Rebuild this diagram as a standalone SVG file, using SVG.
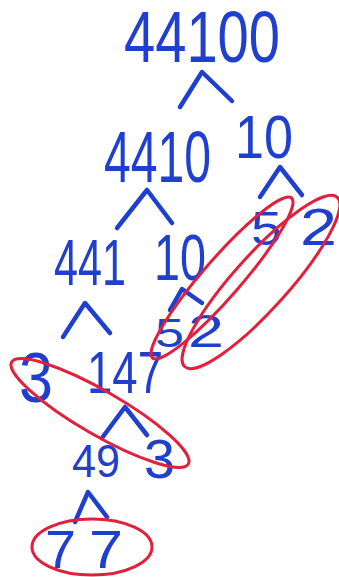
<svg xmlns="http://www.w3.org/2000/svg" width="339" height="577" viewBox="0 0 339 577">
<style>
.n{font-family:"Liberation Sans",Arial,sans-serif;fill:#1f3fcf;}
.c{fill:none;stroke:#1f3fcf;stroke-width:4.5;stroke-linecap:round;stroke-linejoin:round;}
.r{fill:none;stroke:#e3203c;stroke-width:3;}
</style>
<rect width="339" height="577" fill="#ffffff"/>
<g id="connectors">
<path class="c" d="M180,107 L202,72 L232,101"/>
<path class="c" d="M117,228 L147,190 L172,223"/>
<path class="c" d="M260,197 L280,167 L302,195"/>
<path class="c" d="M63,337 L85,303 L110,333"/>
<path class="c" d="M170,310 L182,289 L202,303"/>
<path class="c" d="M102,438 L125,407 L147,435"/>
<path class="c" d="M75,522 L88,492 L107,517"/>
</g>
<g id="n44100"><text class="n" x="124" y="62" font-size="72" textLength="156" lengthAdjust="spacingAndGlyphs">44100</text></g>
<g id="n4410"><text class="n" x="104" y="182" font-size="72" textLength="107" lengthAdjust="spacingAndGlyphs">4410</text></g>
<g id="n10a"><text class="n" x="235" y="158" font-size="62" textLength="58" lengthAdjust="spacingAndGlyphs">10</text></g>
<g id="n441"><text class="n" x="54" y="285" font-size="65" textLength="72" lengthAdjust="spacingAndGlyphs">441</text></g>
<g id="n10b"><text class="n" x="154" y="280" font-size="65" textLength="52" lengthAdjust="spacingAndGlyphs">10</text></g>
<g id="n5a"><text class="n" x="251" y="245" font-size="49" textLength="31" lengthAdjust="spacingAndGlyphs">5</text></g>
<g id="n2a"><text class="n" x="300" y="245" font-size="51" textLength="37" lengthAdjust="spacingAndGlyphs">2</text></g>
<g id="n5b"><text class="n" x="155" y="347" font-size="41" textLength="29" lengthAdjust="spacingAndGlyphs">5</text></g>
<g id="n2b"><text class="n" x="188" y="347" font-size="47" textLength="36" lengthAdjust="spacingAndGlyphs">2</text></g>
<g id="n3a"><text class="n" x="19" y="402" font-size="70" textLength="34" lengthAdjust="spacingAndGlyphs">3</text></g>
<g id="n147"><text class="n" x="87" y="393" font-size="60" textLength="76" lengthAdjust="spacingAndGlyphs">147</text></g>
<g id="n49"><text class="n" x="72" y="477" font-size="47" textLength="48" lengthAdjust="spacingAndGlyphs">49</text></g>
<g id="n3b"><text class="n" x="144" y="478" font-size="56" textLength="31" lengthAdjust="spacingAndGlyphs">3</text></g>
<g id="n7a"><text class="n" x="45" y="568" font-size="53" textLength="31" lengthAdjust="spacingAndGlyphs">7</text></g>
<g id="n7b"><text class="n" x="89" y="568" font-size="53" textLength="34" lengthAdjust="spacingAndGlyphs">7</text></g>
<g id="groups">
<ellipse class="r" cx="222" cy="278" rx="106" ry="19" transform="rotate(-49 222 278)"/>
<ellipse class="r" cx="261" cy="282" rx="114" ry="27" transform="rotate(-48 261 282)"/>
<ellipse class="r" cx="100" cy="413" rx="102" ry="22" transform="rotate(30 100 413)"/>
<ellipse class="r" cx="92" cy="547" rx="60" ry="28"/>
</g>
</svg>
